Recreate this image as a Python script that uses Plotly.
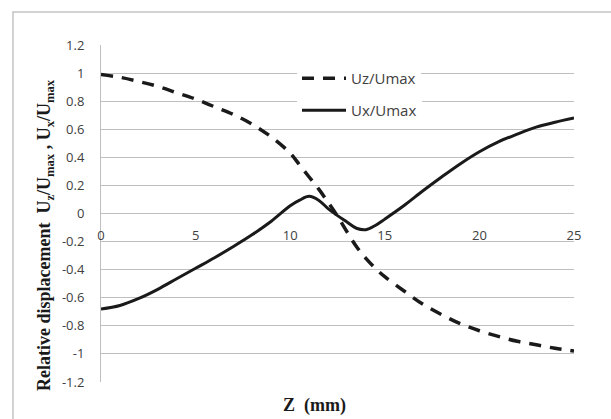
import plotly.graph_objects as go

z = [0, 1, 2, 3, 4, 5, 6, 7, 8, 9, 10, 10.5, 11, 11.5, 12, 12.5, 13, 13.5, 14, 14.5, 15, 16, 17, 18, 19, 20, 21, 22, 23, 24, 25]
uz = [0.99, 0.97, 0.94, 0.905, 0.86, 0.815, 0.76, 0.705, 0.635, 0.545, 0.43, 0.345, 0.26, 0.175, 0.08, -0.02, -0.13, -0.235, -0.32, -0.39, -0.45, -0.55, -0.645, -0.72, -0.785, -0.835, -0.875, -0.91, -0.935, -0.96, -0.98]
ux = [-0.68, -0.655, -0.605, -0.54, -0.465, -0.39, -0.315, -0.235, -0.15, -0.055, 0.055, 0.095, 0.122, 0.095, 0.035, -0.015, -0.06, -0.105, -0.115, -0.085, -0.04, 0.055, 0.16, 0.26, 0.355, 0.44, 0.51, 0.565, 0.615, 0.65, 0.68]

y_ticks = [1.2, 1, 0.8, 0.6, 0.4, 0.2, 0, -0.2, -0.4, -0.6, -0.8, -1, -1.2]
y_tick_text = ["1.2", "1", "0.8", "0.6", "0.4", "0.2", "0", "-0.2", "-0.4", "-0.6", "-0.8", "-1", "-1.2"]
x_ticks = [0, 5, 10, 15, 20, 25]

W, H = 611, 419
L, R, T, B = 101, 37, 45, 37
pw, ph = W - L - R, H - T - B

def px(xp):
    return (xp - L) / pw

def py(yp):
    return (H - B - yp) / ph

fig = go.Figure()
fig.add_trace(go.Scatter(x=z, y=uz, mode="lines", name="Uz/Umax",
                         line=dict(color="#1a1a1a", width=3.5, dash="12px,9px", shape="spline", smoothing=1),
                         legend="legend"))
fig.add_trace(go.Scatter(x=z, y=ux, mode="lines", name="Ux/Umax",
                         line=dict(color="#1a1a1a", width=3, shape="spline", smoothing=1),
                         legend="legend2"))

tick_font = dict(family="Open Sans", size=13, color="#404040")
leg_font = dict(family="Open Sans", size=15, color="#404040")
fig.update_layout(
    width=W, height=H,
    margin=dict(l=L, r=R, t=T, b=B, autoexpand=False),
    paper_bgcolor="white", plot_bgcolor="white",
    showlegend=True,
    legend=dict(x=px(297), y=py(62), xanchor="left", yanchor="top",
                bgcolor="white", font=leg_font, itemwidth=44, borderwidth=0),
    legend2=dict(x=px(297), y=py(94), xanchor="left", yanchor="top",
                 bgcolor="white", font=leg_font, itemwidth=44, borderwidth=0),
    xaxis=dict(range=[0, 25], tickvals=x_ticks, showgrid=False, zeroline=False,
               anchor="free", position=0.5, showline=False, ticks="",
               tickfont=tick_font, ticklabelstandoff=12, automargin=False),
    yaxis=dict(range=[-1.2, 1.2], tickvals=y_ticks, ticktext=y_tick_text,
               showgrid=True, gridcolor="#bfbfbf", gridwidth=1, zeroline=False,
               showline=True, linecolor="#bfbfbf", linewidth=1, ticks="",
               tickfont=tick_font, ticklabelstandoff=13, automargin=False),
    shapes=[dict(type="rect", xref="paper", yref="paper",
                 x0=px(13), x1=1.3, y0=-0.3, y1=py(12),
                 line=dict(color="#c4c4c4", width=1.5), fillcolor="rgba(0,0,0,0)", layer="above")],
    annotations=[
        dict(text="<b>Z  (mm)</b>", xref="paper", yref="paper",
             x=px(314), y=py(405), xanchor="center", yanchor="middle",
             showarrow=False, font=dict(family="Liberation Serif", size=18, color="#1a1a1a")),
        dict(text="<b>Relative displacement  U<sub>z</sub>/U<sub>max</sub> , U<sub>x</sub>/U<sub>max</sub></b>",
             xref="paper", yref="paper", x=px(46), y=py(235), xanchor="center", yanchor="middle",
             textangle=-90, showarrow=False,
             font=dict(family="Liberation Serif", size=18, color="#1a1a1a")),
    ],
)
fig.write_html("out.html", config={"displayModeBar": False},
               post_script="document.body.style.margin='0';document.body.style.overflow='hidden';")
